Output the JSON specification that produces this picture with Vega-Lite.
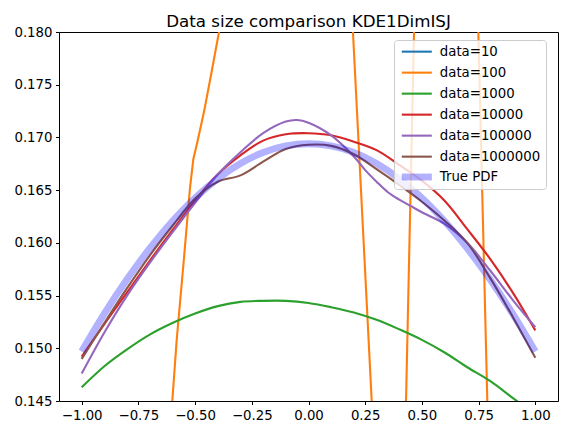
{
  "$schema": "https://vega.github.io/schema/vega-lite/v6.json",
  "width": 499,
  "height": 369,
  "autosize": "none",
  "padding": {"left": 59, "top": 32, "right": 7, "bottom": 34},
  "title": {
    "text": "Data size comparison KDE1DimISJ",
    "font": "DejaVu Sans",
    "fontSize": 16.7,
    "fontWeight": "normal",
    "color": "black",
    "anchor": "middle",
    "baseline": "alphabetic",
    "offset": 8,
    "dy": 27
  },
  "config": {
    "view": {"stroke": "black", "strokeWidth": 1},
    "line": {"strokeJoin": "round"},
    "axis": {
      "domain": false,
      "grid": false,
      "tickColor": "black",
      "tickWidth": 1,
      "tickSize": 3.5,
      "labelFont": "DejaVu Sans",
      "labelFontSize": 13.3,
      "labelColor": "black",
      "labelPadding": 3.5,
      "title": null
    },
    "legend": {
      "title": null,
      "orient": "none",
      "legendX": 335,
      "legendY": 8,
      "padding": 5,
      "strokeColor": "#cccccc",
      "cornerRadius": 3,
      "fillColor": "rgba(255,255,255,0.8)",
      "symbolType": "M-4.75,0H4.75",
      "symbolSize": 40,
      "symbolOffset": 10.8,
      "labelOffset": 16,
      "labelFont": "DejaVu Sans",
      "labelFontSize": 13.3,
      "labelColor": "black",
      "rowPadding": 7
    }
  },
  "data": {
    "values": [
      {"series": "data=10", "x": -1.0, "y": 0.10},
      {"series": "data=10", "x": -0.5, "y": 0.12},
      {"series": "data=10", "x": 0.0, "y": 0.13},
      {"series": "data=10", "x": 0.5, "y": 0.12},
      {"series": "data=10", "x": 1.0, "y": 0.10},

      {"series": "data=100", "x": -1.0, "y": 0.0},
      {"series": "data=100", "x": -0.8, "y": 0.06},
      {"series": "data=100", "x": -0.7, "y": 0.11},
      {"series": "data=100", "x": -0.64, "y": 0.133},
      {"series": "data=100", "x": -0.6005, "y": 0.145},
      {"series": "data=100", "x": -0.5811, "y": 0.1508},
      {"series": "data=100", "x": -0.55, "y": 0.1583},
      {"series": "data=100", "x": -0.5225, "y": 0.1652},
      {"series": "data=100", "x": -0.508, "y": 0.1679},
      {"series": "data=100", "x": -0.4885, "y": 0.1697},
      {"series": "data=100", "x": -0.46, "y": 0.1725},
      {"series": "data=100", "x": -0.43, "y": 0.1759},
      {"series": "data=100", "x": -0.3946, "y": 0.18},
      {"series": "data=100", "x": -0.35, "y": 0.185},
      {"series": "data=100", "x": -0.2, "y": 0.2},
      {"series": "data=100", "x": 0.0, "y": 0.21},
      {"series": "data=100", "x": 0.12, "y": 0.205},
      {"series": "data=100", "x": 0.17, "y": 0.192},
      {"series": "data=100", "x": 0.196, "y": 0.18},
      {"series": "data=100", "x": 0.2787, "y": 0.145},
      {"series": "data=100", "x": 0.31, "y": 0.13},
      {"series": "data=100", "x": 0.36, "y": 0.115},
      {"series": "data=100", "x": 0.4, "y": 0.12},
      {"series": "data=100", "x": 0.43, "y": 0.145},
      {"series": "data=100", "x": 0.4652, "y": 0.18},
      {"series": "data=100", "x": 0.5, "y": 0.21},
      {"series": "data=100", "x": 0.6, "y": 0.25},
      {"series": "data=100", "x": 0.7, "y": 0.225},
      {"series": "data=100", "x": 0.7487, "y": 0.18},
      {"series": "data=100", "x": 0.7884, "y": 0.145},
      {"series": "data=100", "x": 0.85, "y": 0.1},
      {"series": "data=100", "x": 1.0, "y": 0.06},

      {"series": "data=1000", "x": -1.0, "y": 0.1463},
      {"series": "data=1000", "x": -0.9, "y": 0.1483},
      {"series": "data=1000", "x": -0.8, "y": 0.1499},
      {"series": "data=1000", "x": -0.7, "y": 0.1513},
      {"series": "data=1000", "x": -0.6, "y": 0.1524},
      {"series": "data=1000", "x": -0.5, "y": 0.1533},
      {"series": "data=1000", "x": -0.4, "y": 0.154},
      {"series": "data=1000", "x": -0.3, "y": 0.1544},
      {"series": "data=1000", "x": -0.2, "y": 0.1545},
      {"series": "data=1000", "x": -0.1, "y": 0.1545},
      {"series": "data=1000", "x": 0.0, "y": 0.1543},
      {"series": "data=1000", "x": 0.1, "y": 0.1539},
      {"series": "data=1000", "x": 0.2, "y": 0.1534},
      {"series": "data=1000", "x": 0.3, "y": 0.1527},
      {"series": "data=1000", "x": 0.4, "y": 0.1518},
      {"series": "data=1000", "x": 0.5, "y": 0.1508},
      {"series": "data=1000", "x": 0.6, "y": 0.1496},
      {"series": "data=1000", "x": 0.7, "y": 0.1482},
      {"series": "data=1000", "x": 0.8, "y": 0.1469},
      {"series": "data=1000", "x": 0.9, "y": 0.1453},
      {"series": "data=1000", "x": 1.0, "y": 0.1437},

      {"series": "data=10000", "x": -1.0, "y": 0.1492},
      {"series": "data=10000", "x": -0.9, "y": 0.1523},
      {"series": "data=10000", "x": -0.8, "y": 0.1553},
      {"series": "data=10000", "x": -0.7, "y": 0.1583},
      {"series": "data=10000", "x": -0.6, "y": 0.1612},
      {"series": "data=10000", "x": -0.5, "y": 0.164},
      {"series": "data=10000", "x": -0.4, "y": 0.1665},
      {"series": "data=10000", "x": -0.3, "y": 0.1683},
      {"series": "data=10000", "x": -0.2, "y": 0.1697},
      {"series": "data=10000", "x": -0.1, "y": 0.1703},
      {"series": "data=10000", "x": 0.0, "y": 0.1704},
      {"series": "data=10000", "x": 0.1, "y": 0.1702},
      {"series": "data=10000", "x": 0.2, "y": 0.1696},
      {"series": "data=10000", "x": 0.3, "y": 0.1688},
      {"series": "data=10000", "x": 0.4, "y": 0.1674},
      {"series": "data=10000", "x": 0.5, "y": 0.1659},
      {"series": "data=10000", "x": 0.6, "y": 0.164},
      {"series": "data=10000", "x": 0.7, "y": 0.1613},
      {"series": "data=10000", "x": 0.8, "y": 0.1585},
      {"series": "data=10000", "x": 0.9, "y": 0.1553},
      {"series": "data=10000", "x": 1.0, "y": 0.1517},

      {"series": "data=100000", "x": -1.0, "y": 0.1476},
      {"series": "data=100000", "x": -0.9, "y": 0.1515},
      {"series": "data=100000", "x": -0.8, "y": 0.155},
      {"series": "data=100000", "x": -0.7, "y": 0.1581},
      {"series": "data=100000", "x": -0.6, "y": 0.161},
      {"series": "data=100000", "x": -0.5, "y": 0.1638},
      {"series": "data=100000", "x": -0.4, "y": 0.1665},
      {"series": "data=100000", "x": -0.3, "y": 0.1686},
      {"series": "data=100000", "x": -0.2, "y": 0.1704},
      {"series": "data=100000", "x": -0.1, "y": 0.1715},
      {"series": "data=100000", "x": -0.05, "y": 0.17165},
      {"series": "data=100000", "x": 0.0, "y": 0.1714},
      {"series": "data=100000", "x": 0.1, "y": 0.1702},
      {"series": "data=100000", "x": 0.2, "y": 0.1682},
      {"series": "data=100000", "x": 0.25, "y": 0.1669},
      {"series": "data=100000", "x": 0.3, "y": 0.1658},
      {"series": "data=100000", "x": 0.35, "y": 0.1648},
      {"series": "data=100000", "x": 0.4, "y": 0.1641},
      {"series": "data=100000", "x": 0.45, "y": 0.1635},
      {"series": "data=100000", "x": 0.5, "y": 0.1629},
      {"series": "data=100000", "x": 0.6, "y": 0.1618},
      {"series": "data=100000", "x": 0.7, "y": 0.16},
      {"series": "data=100000", "x": 0.8, "y": 0.1574},
      {"series": "data=100000", "x": 0.9, "y": 0.1546},
      {"series": "data=100000", "x": 1.0, "y": 0.152},

      {"series": "data=1000000", "x": -1.0, "y": 0.149},
      {"series": "data=1000000", "x": -0.9, "y": 0.1524},
      {"series": "data=1000000", "x": -0.8, "y": 0.1557},
      {"series": "data=1000000", "x": -0.7, "y": 0.1588},
      {"series": "data=1000000", "x": -0.6, "y": 0.1616},
      {"series": "data=1000000", "x": -0.5, "y": 0.1642},
      {"series": "data=1000000", "x": -0.4, "y": 0.1658},
      {"series": "data=1000000", "x": -0.3, "y": 0.1664},
      {"series": "data=1000000", "x": -0.2, "y": 0.1677},
      {"series": "data=1000000", "x": -0.1, "y": 0.1689},
      {"series": "data=1000000", "x": 0.0, "y": 0.1693},
      {"series": "data=1000000", "x": 0.1, "y": 0.1692},
      {"series": "data=1000000", "x": 0.2, "y": 0.1684},
      {"series": "data=1000000", "x": 0.3, "y": 0.167},
      {"series": "data=1000000", "x": 0.4, "y": 0.1655},
      {"series": "data=1000000", "x": 0.5, "y": 0.1639},
      {"series": "data=1000000", "x": 0.6, "y": 0.1621},
      {"series": "data=1000000", "x": 0.7, "y": 0.16},
      {"series": "data=1000000", "x": 0.8, "y": 0.1567},
      {"series": "data=1000000", "x": 0.9, "y": 0.153},
      {"series": "data=1000000", "x": 1.0, "y": 0.1491},

      {"series": "True PDF", "x": -1.0, "y": 0.1497},
      {"series": "True PDF", "x": -0.9, "y": 0.15329},
      {"series": "True PDF", "x": -0.8, "y": 0.15654},
      {"series": "True PDF", "x": -0.7, "y": 0.15947},
      {"series": "True PDF", "x": -0.6, "y": 0.16205},
      {"series": "True PDF", "x": -0.5, "y": 0.16426},
      {"series": "True PDF", "x": -0.4, "y": 0.16609},
      {"series": "True PDF", "x": -0.3, "y": 0.16753},
      {"series": "True PDF", "x": -0.2, "y": 0.16857},
      {"series": "True PDF", "x": -0.1, "y": 0.16919},
      {"series": "True PDF", "x": 0.0, "y": 0.1694},
      {"series": "True PDF", "x": 0.1, "y": 0.16919},
      {"series": "True PDF", "x": 0.2, "y": 0.16857},
      {"series": "True PDF", "x": 0.3, "y": 0.16753},
      {"series": "True PDF", "x": 0.4, "y": 0.16609},
      {"series": "True PDF", "x": 0.5, "y": 0.16426},
      {"series": "True PDF", "x": 0.6, "y": 0.16205},
      {"series": "True PDF", "x": 0.7, "y": 0.15947},
      {"series": "True PDF", "x": 0.8, "y": 0.15654},
      {"series": "True PDF", "x": 0.9, "y": 0.15329},
      {"series": "True PDF", "x": 1.0, "y": 0.1497}
    ]
  },
  "encoding": {
    "x": {
      "field": "x",
      "type": "quantitative",
      "scale": {"domain": [-1.1, 1.1], "nice": false, "zero": false},
      "axis": {"values": [-1, -0.75, -0.5, -0.25, 0, 0.25, 0.5, 0.75, 1], "format": ".2f"}
    },
    "y": {
      "field": "y",
      "type": "quantitative",
      "scale": {"domain": [0.145, 0.18], "nice": false, "zero": false},
      "axis": {"values": [0.145, 0.15, 0.155, 0.16, 0.165, 0.17, 0.175, 0.18], "format": ".3f"}
    },
    "color": {
      "field": "series",
      "type": "nominal",
      "scale": {
        "type": "ordinal",
        "domain": ["data=10", "data=100", "data=1000", "data=10000", "data=100000", "data=1000000", "True PDF"],
        "range": ["#1f77b4", "#ff7f0e", "#2ca02c", "#d62728", "#9467bd", "#8c564b", "#0000ff"]
      }
    },
    "strokeWidth": {
      "field": "series",
      "type": "nominal",
      "scale": {
        "type": "ordinal",
        "domain": ["data=10", "data=100", "data=1000", "data=10000", "data=100000", "data=1000000", "True PDF"],
        "range": [2.1, 2.1, 2.1, 2.1, 2.1, 2.1, 6.9]
      }
    },
    "opacity": {
      "field": "series",
      "type": "nominal",
      "scale": {
        "type": "ordinal",
        "domain": ["data=10", "data=100", "data=1000", "data=10000", "data=100000", "data=1000000", "True PDF"],
        "range": [1, 1, 1, 1, 1, 1, 0.3]
      }
    }
  },
  "layer": [
    {
      "transform": [{"filter": "datum.series === 'data=10' || datum.series === 'data=100'"}],
      "mark": {"type": "line", "clip": true, "interpolate": "linear"}
    },
    {
      "transform": [{"filter": "datum.series !== 'data=10' && datum.series !== 'data=100' && datum.series !== 'True PDF'"}],
      "mark": {"type": "line", "clip": true, "interpolate": "catmull-rom"}
    },
    {
      "transform": [{"filter": "datum.series === 'True PDF'"}],
      "mark": {"type": "line", "clip": true, "interpolate": "catmull-rom"}
    }
  ]
}
